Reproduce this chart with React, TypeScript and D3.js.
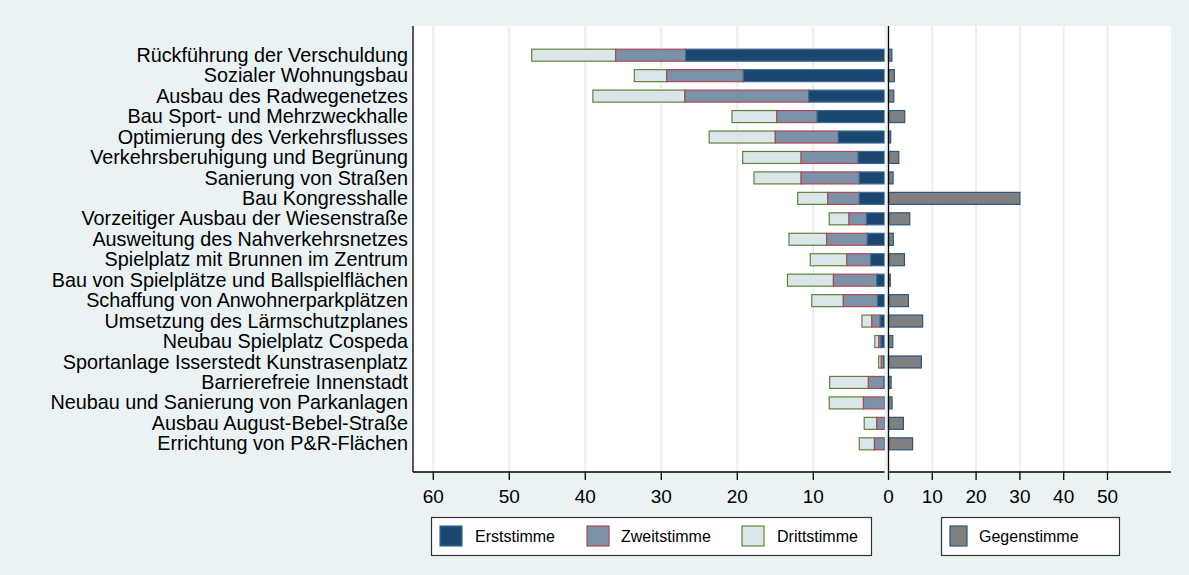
import React from "react";
import * as d3 from "d3";

const categories = [
  "Rückführung der Verschuldung",
  "Sozialer Wohnungsbau",
  "Ausbau des Radwegenetzes",
  "Bau Sport- und Mehrzweckhalle",
  "Optimierung des Verkehrsflusses",
  "Verkehrsberuhigung und Begrünung",
  "Sanierung von Straßen",
  "Bau Kongresshalle",
  "Vorzeitiger Ausbau der Wiesenstraße",
  "Ausweitung des Nahverkehrsnetzes",
  "Spielplatz mit Brunnen im Zentrum",
  "Bau von Spielplätze und Ballspielflächen",
  "Schaffung von Anwohnerparkplätzen",
  "Umsetzung des Lärmschutzplanes",
  "Neubau Spielplatz Cospeda",
  "Sportanlage Isserstedt Kunstrasenplatz",
  "Barrierefreie Innenstadt",
  "Neubau und Sanierung von Parkanlagen",
  "Ausbau August-Bebel-Straße",
  "Errichtung von P&R-Flächen",
];

const erststimme = [26.8, 19.2, 10.6, 9.5, 6.7, 4.1, 3.95, 3.95, 3.0, 2.9, 2.45, 1.65, 1.55, 1.2, 1.1, 0.75, 0.75, 0.6, 0.6, 0.6];
const zweitstimme = [9.2, 10.1, 16.3, 5.3, 8.3, 7.5, 7.65, 4.15, 2.3, 5.35, 3.15, 5.7, 4.5, 1.1, 0.3, 0.3, 2.0, 2.8, 1.05, 1.35];
const drittstimme = [11.05, 4.25, 12.1, 5.9, 8.7, 7.7, 6.2, 3.95, 2.6, 4.95, 4.8, 6.05, 4.15, 1.3, 0.5, 0.35, 5.1, 4.5, 1.65, 2.0];
const gegenstimme = [0.77, 1.35, 1.2, 3.7, 0.5, 2.35, 1.05, 30, 4.85, 1.1, 3.65, 0.4, 4.55, 7.8, 0.97, 7.5, 0.6, 0.82, 3.4, 5.5];

const leftTicks = [60, 50, 40, 30, 20, 10];
const rightTicks = [0, 10, 20, 30, 40, 50];
const legendLeft = ["Erststimme", "Zweitstimme", "Drittstimme"];
const legendRight = ["Gegenstimme"];

const W = 1189;
const H = 575;
const BG = "#eaf2f3";
const GRID = "#e6eef1";
const FONT = "'Liberation Sans', Arial, Helvetica, sans-serif";

const styles = {
  erst: { fill: "#1a476f", stroke: "#3e6a92" },
  zweit: { fill: "#7b91a8", stroke: "#b0474f" },
  dritt: { fill: "#dbe6eb", stroke: "#5f8239" },
  gegen: { fill: "#808080", stroke: "#2c5580" },
};

export default function App() {
  const top = 26;
  const bottom = 472;
  const leftX0 = 413;
  const leftClip = 884.5;
  const rightX0 = 888.5;
  const rightX1 = 1171;

  const xL = d3.scaleLinear().domain([62.67, 0]).range([leftX0, 889.3]);
  const xR = d3.scaleLinear().domain([0, 64.5]).range([rightX0, rightX1]);
  const y = d3.scalePoint<string>().domain(categories).range([55.2, 443.8]);
  const bh = 12;

  const segs: { x0: number; x1: number; cy: number; st: { fill: string; stroke: string } }[] = [];
  categories.forEach((c, i) => {
    const e = erststimme[i];
    const z = e + zweitstimme[i];
    const d = z + drittstimme[i];
    const cy = y(c) as number;
    segs.push({ x0: xL(d), x1: xL(z), cy, st: styles.dritt });
    segs.push({ x0: xL(z), x1: xL(e), cy, st: styles.zweit });
    segs.push({ x0: xL(e), x1: xL(0), cy, st: styles.erst });
  });

  const legendItems1 = legendLeft.map((t, i) => ({
    t,
    sx: [440, 587, 742][i],
    tx: [475, 621, 777][i],
    st: [styles.erst, styles.zweit, styles.dritt][i],
  }));

  return (
    <svg
      width={W}
      height={H}
      style={{ position: "absolute", left: 0, top: 0, display: "block" }}
      fontFamily={FONT}
    >
      <defs>
        <clipPath id="leftClip">
          <rect x={leftX0} y={top} width={leftClip - leftX0} height={bottom - top} />
        </clipPath>
      </defs>
      <rect x={0} y={0} width={W} height={H} fill={BG} />

      {/* panels */}
      <rect x={leftX0} y={top} width={leftClip - leftX0} height={bottom - top} fill="#fff" />
      <rect x={rightX0} y={top} width={rightX1 - rightX0} height={bottom - top} fill="#fff" />

      {/* grid */}
      {leftTicks.map((t) => (
        <line key={"gl" + t} x1={xL(t)} x2={xL(t)} y1={top} y2={bottom} stroke={GRID} strokeWidth={1.8} />
      ))}
      {rightTicks.filter((t) => t > 0).map((t) => (
        <line key={"gr" + t} x1={xR(t)} x2={xR(t)} y1={top} y2={bottom} stroke={GRID} strokeWidth={1.8} />
      ))}

      {/* left bars */}
      <g clipPath="url(#leftClip)">
        {segs.map((s, i) => (
          <rect
            key={"s" + i}
            x={s.x0}
            y={s.cy - bh / 2}
            width={Math.max(0, s.x1 - s.x0)}
            height={bh}
            fill={s.st.fill}
            stroke={s.st.stroke}
            strokeWidth={1.2}
          />
        ))}
      </g>

      {/* right bars */}
      {categories.map((c, i) => (
        <rect
          key={"g" + i}
          x={xR(0)}
          y={(y(c) as number) - bh / 2}
          width={xR(gegenstimme[i]) - xR(0)}
          height={bh}
          fill={styles.gegen.fill}
          stroke={styles.gegen.stroke}
          strokeWidth={1.2}
        />
      ))}

      {/* axes */}
      <line x1={leftX0} x2={leftX0} y1={top} y2={bottom} stroke="#000" strokeWidth={1.3} />
      <line x1={leftX0} x2={leftClip} y1={bottom} y2={bottom} stroke="#000" strokeWidth={1.3} />
      <line x1={rightX0} x2={rightX0} y1={top} y2={bottom} stroke="#000" strokeWidth={1.3} />
      <line x1={rightX0} x2={rightX1} y1={bottom} y2={bottom} stroke="#000" strokeWidth={1.3} />

      {leftTicks.map((t) => (
        <g key={"tl" + t}>
          <line x1={xL(t)} x2={xL(t)} y1={bottom} y2={bottom + 8} stroke="#000" strokeWidth={1.3} />
          <text x={xL(t)} y={503} textAnchor="middle" fontSize={19} fill="#000">
            {t}
          </text>
        </g>
      ))}
      {rightTicks.map((t) => (
        <g key={"tr" + t}>
          <line x1={xR(t)} x2={xR(t)} y1={bottom} y2={bottom + 8} stroke="#000" strokeWidth={1.3} />
          <text x={xR(t)} y={503} textAnchor="middle" fontSize={19} fill="#000">
            {t}
          </text>
        </g>
      ))}

      {/* category labels */}
      {categories.map((c) => (
        <text key={"c" + c} x={408} y={(y(c) as number) + 6.6} textAnchor="end" fontSize={19.8} fill="#000">
          {c}
        </text>
      ))}

      {/* legend left */}
      <rect x={431.5} y={517.5} width={440} height={38} fill="#fff" stroke="#333" strokeWidth={1.2} />
      {legendItems1.map((it) => (
        <g key={"l" + it.t}>
          <rect x={it.sx} y={526} width={22} height={20} fill={it.st.fill} stroke={it.st.stroke} strokeWidth={1.2} />
          <text x={it.tx} y={542} fontSize={16} fill="#000">
            {it.t}
          </text>
        </g>
      ))}

      {/* legend right */}
      <rect x={941.5} y={517.5} width={178} height={38} fill="#fff" stroke="#333" strokeWidth={1.2} />
      {legendRight.map((t) => (
        <g key={"lr" + t}>
          <rect x={950} y={526} width={17} height={20} fill={styles.gegen.fill} stroke={styles.gegen.stroke} strokeWidth={1.2} />
          <text x={979} y={542} fontSize={16} fill="#000">
            {t}
          </text>
        </g>
      ))}
    </svg>
  );
}
